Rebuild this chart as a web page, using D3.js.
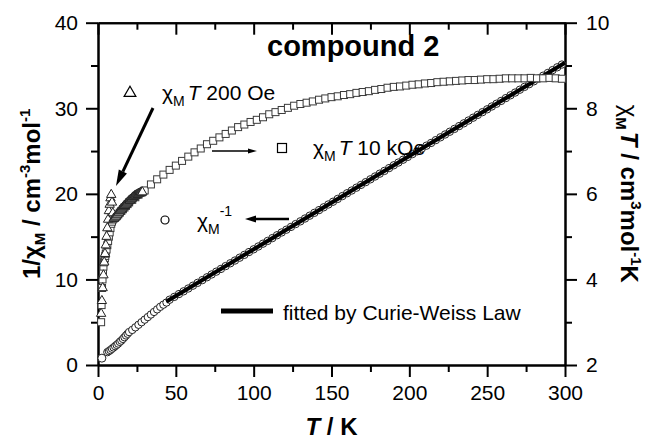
<!DOCTYPE html>
<html>
<head>
<meta charset="utf-8">
<script src="https://cdn.jsdelivr.net/npm/d3@7"></script>
<style>
  body { margin: 0; background: #fff; }
  svg { display: block; }
  text { font-family: "Liberation Sans", Arial, sans-serif; fill: #000; }
</style>
</head>
<body>
<div id="chart"></div>
<script>
// chi_M T at 10 kOe (right axis, cm3 mol-1 K)
const sqT = [2, 2.3, 2.6, 2.9, 3.2, 3.5, 3.8, 4.1, 4.4, 4.7, 5, 5.5, 6, 6.5, 7, 7.5, 8, 8.5, 9, 9.5, 10,
  11, 12, 13, 14, 15, 16, 17, 18, 19, 20, 22, 24, 26, 28,
  30, 34, 38, 42, 46, 50, 54, 58, 62, 66, 70, 74, 78, 82, 86, 90, 94, 98, 102, 106, 110, 114, 118,
  122, 126, 130, 134, 138, 142, 146, 150, 154, 158, 162, 166, 170, 174, 178, 182, 186, 190, 194,
  198, 202, 206, 210, 214, 218, 222, 226, 230, 234, 238, 242, 246, 250, 254, 258, 262, 266, 270,
  274, 278, 282, 286, 290, 294, 298];
const sqV = [3.0, 3.4, 3.8, 4.0, 4.2, 4.3, 4.4, 4.45, 4.5, 4.55, 4.6, 4.7, 4.8, 4.9, 5.0, 5.1, 5.2, 5.3, 5.35, 5.4, 5.42,
  5.45, 5.48, 5.52, 5.56, 5.6, 5.64, 5.68, 5.72, 5.76, 5.8, 5.86, 5.92, 5.98, 6.03,
  6.08, 6.22, 6.34, 6.45, 6.56, 6.66, 6.77, 6.87, 6.97, 7.06, 7.16, 7.24, 7.32, 7.40, 7.48, 7.56, 7.62, 7.68, 7.73, 7.79, 7.86, 7.91, 7.96,
  8.01, 8.06, 8.10, 8.13, 8.16, 8.20, 8.23, 8.26, 8.28, 8.31, 8.33, 8.36, 8.38, 8.40, 8.43, 8.45, 8.48, 8.50, 8.51,
  8.53, 8.55, 8.56, 8.58, 8.59, 8.61, 8.62, 8.63, 8.64, 8.65, 8.66, 8.66, 8.67, 8.68, 8.68, 8.69, 8.70, 8.70, 8.70,
  8.70, 8.71, 8.70, 8.70, 8.71, 8.70, 8.69];

// chi_M T at 200 Oe (right axis)
const triT = [2, 2.5, 3, 3.5, 4, 4.5, 5, 5.5, 6, 6.5, 7, 7.5, 8, 8.5, 9, 9.5, 10,
  10.5, 11, 11.5, 12, 12.5, 13, 13.5, 14, 14.5, 15, 15.5, 16, 16.5, 17, 17.5, 18, 18.5, 19, 19.5,
  20, 20.5, 21, 21.5, 22, 22.5, 23, 23.5, 24, 24.5, 25, 25.5, 26, 26.5, 27, 27.5, 28, 28.5];
const triV = [3.2, 3.5, 3.8, 4.1, 4.4, 4.6, 4.8, 5.0, 5.2, 5.4, 5.6, 5.75, 5.9, 5.98, 5.8, 5.55, 5.42,
  5.43, 5.45, 5.47, 5.5, 5.52, 5.55, 5.57, 5.6, 5.62, 5.64, 5.66, 5.68, 5.70, 5.72, 5.74, 5.76, 5.78, 5.8, 5.82,
  5.84, 5.85, 5.87, 5.88, 5.9, 5.92, 5.93, 5.95, 5.96, 5.97, 5.98, 5.99, 6.0, 6.01, 6.02, 6.03, 6.03, 6.04];

// 1/chi_M (left axis, cm-3 mol)
const cirT = [2.5, 6, 7, 8, 9, 10, 11, 12, 13, 14, 15, 16, 17, 18, 19, 20, 22, 24, 26, 28, 30, 32, 34, 36, 38, 40, 42, 44,
  46, 49, 52, 55, 58, 61, 64, 67, 70, 73, 76, 79, 82, 85, 88, 91, 94, 97, 100, 103, 106, 109, 112, 115,
  118, 121, 124, 127, 130, 133, 136, 139, 142, 145, 148, 151, 154, 157, 160, 163, 166, 169, 172, 175,
  178, 181, 184, 187, 190, 193, 196, 199, 202, 205, 208, 211, 214, 217, 220, 223, 226, 229, 232, 235,
  238, 241, 244, 247, 250, 253, 256, 259, 262, 265, 268, 271, 274, 277, 280, 283, 286, 289, 292, 295, 298];
const cirV = [0.8, 1.5, 1.62, 1.75, 1.9, 2.05, 2.2, 2.35, 2.5, 2.7, 2.85, 3.05, 3.25, 3.45, 3.65, 3.85, 4.1, 4.4, 4.7, 5.0, 5.3, 5.6, 5.9, 6.2, 6.5, 6.8, 7.05, 7.3,
  7.63, 7.96, 8.29, 8.61, 8.94, 9.27, 9.60, 9.92, 10.25, 10.58, 10.91, 11.23, 11.56, 11.89, 12.21, 12.54, 12.87, 13.20, 13.52, 13.85, 14.18, 14.50, 14.83, 15.16,
  15.49, 15.81, 16.14, 16.47, 16.79, 17.12, 17.45, 17.78, 18.10, 18.43, 18.76, 19.08, 19.41, 19.74, 20.07, 20.39, 20.72, 21.05, 21.37, 21.70,
  22.03, 22.36, 22.68, 23.01, 23.34, 23.66, 23.99, 24.32, 24.65, 24.97, 25.30, 25.63, 25.95, 26.28, 26.61, 26.94, 27.26, 27.59, 27.92, 28.24,
  28.57, 28.90, 29.23, 29.55, 29.88, 30.21, 30.53, 30.86, 31.19, 31.52, 31.84, 32.17, 32.50, 32.82, 33.15, 33.48, 33.81, 34.13, 34.46, 34.79, 35.11];

// Curie-Weiss fit line (left axis)
const fitT = [44, 300];
const fitV = [7.42, 35.33];

const xMajor = [0, 50, 100, 150, 200, 250, 300];
const xMinor = [25, 75, 125, 175, 225, 275];
const yLMajor = [0, 10, 20, 30, 40];
const yLMinor = [5, 15, 25, 35];
const yRMajor = [2, 4, 6, 8, 10];
const yRMinor = [3, 5, 7, 9];

const width = 648, height = 439;
const plot = { left: 98, right: 565, top: 22.7, bottom: 365 };

const svg = d3.select("#chart").append("svg")
  .attr("width", width)
  .attr("height", height);

const x = d3.scaleLinear().domain([0, 300]).range([plot.left, plot.right]);
const yL = d3.scaleLinear().domain([0, 40]).range([plot.bottom, plot.top]);
const yR = d3.scaleLinear().domain([2, 10]).range([plot.bottom, plot.top]);

function styleAxis(g) {
  g.select(".domain").attr("stroke", "#000").attr("stroke-width", 2);
  g.selectAll(".tick line").attr("stroke", "#000").attr("stroke-width", 2);
  g.selectAll(".tick text").attr("font-size", 21).attr("font-family", "Liberation Sans, Arial, sans-serif");
}

// axes
svg.append("g").attr("transform", `translate(0,${plot.bottom})`)
  .call(d3.axisBottom(x).tickValues(xMajor).tickSize(12).tickSizeOuter(0).tickPadding(8))
  .call(styleAxis);
svg.append("g").attr("transform", `translate(0,${plot.bottom})`)
  .call(d3.axisBottom(x).tickValues(xMinor).tickSize(7).tickSizeOuter(0).tickFormat(""))
  .call(styleAxis);
svg.append("g").attr("transform", `translate(0,${plot.top})`)
  .call(d3.axisTop(x).tickValues(xMajor).tickSize(-12).tickSizeOuter(0).tickFormat(""))
  .call(styleAxis);
svg.append("g").attr("transform", `translate(0,${plot.top})`)
  .call(d3.axisTop(x).tickValues(xMinor).tickSize(-7).tickSizeOuter(0).tickFormat(""))
  .call(styleAxis);

svg.append("g").attr("transform", `translate(${plot.left},0)`)
  .call(d3.axisLeft(yL).tickValues(yLMajor).tickSize(12).tickSizeOuter(0).tickPadding(8))
  .call(styleAxis);
svg.append("g").attr("transform", `translate(${plot.left},0)`)
  .call(d3.axisLeft(yL).tickValues(yLMinor).tickSize(7).tickSizeOuter(0).tickFormat(""))
  .call(styleAxis);

svg.append("g").attr("transform", `translate(${plot.right},0)`)
  .call(d3.axisRight(yR).tickValues(yRMajor).tickSize(12).tickSizeOuter(0).tickPadding(9))
  .call(styleAxis);
svg.append("g").attr("transform", `translate(${plot.right},0)`)
  .call(d3.axisRight(yR).tickValues(yRMinor).tickSize(7).tickSizeOuter(0).tickFormat(""))
  .call(styleAxis);

// 1/chi circles
svg.append("g").selectAll("circle")
  .data(cirT.map((t, i) => [t, cirV[i]]))
  .enter().append("circle")
  .attr("cx", d => x(d[0]))
  .attr("cy", d => yL(d[1]))
  .attr("r", (d, i) => (i === 0 ? 4 : 3.7))
  .attr("fill", "#fff")
  .attr("stroke", "#222")
  .attr("stroke-width", 1);

// fit line
svg.append("path")
  .datum(fitT.map((t, i) => [t, fitV[i]]))
  .attr("d", d3.line().x(d => x(d[0])).y(d => yL(d[1])))
  .attr("stroke", "#000")
  .attr("stroke-width", 4)
  .attr("fill", "none");

// chiT 10 kOe squares
const sq = 7;
svg.append("g").selectAll("rect")
  .data(sqT.map((t, i) => [t, sqV[i]]))
  .enter().append("rect")
  .attr("x", d => x(d[0]) - sq / 2)
  .attr("y", d => yR(d[1]) - sq / 2)
  .attr("width", sq)
  .attr("height", sq)
  .attr("fill", "#fff")
  .attr("stroke", "#3a3a3a")
  .attr("stroke-width", 1);

// chiT 200 Oe triangles
const tri = d3.symbol().type(d3.symbolTriangle).size(38);
svg.append("g").selectAll("path")
  .data(triT.map((t, i) => [t, triV[i]]))
  .enter().append("path")
  .attr("d", tri)
  .attr("transform", d => `translate(${x(d[0])},${yR(d[1])})`)
  .attr("fill", "#fff")
  .attr("stroke", "#222")
  .attr("stroke-width", 1);

// arrows
function arrow(x1, y1, x2, y2, w, headLen, headW) {
  const a = Math.atan2(y2 - y1, x2 - x1);
  const bx = x2 - headLen * Math.cos(a), by = y2 - headLen * Math.sin(a);
  const nx = -Math.sin(a) * headW / 2, ny = Math.cos(a) * headW / 2;
  svg.append("line")
    .attr("x1", x1).attr("y1", y1).attr("x2", bx).attr("y2", by)
    .attr("stroke", "#000").attr("stroke-width", w);
  svg.append("path")
    .attr("d", `M${x2},${y2}L${bx + nx},${by + ny}L${bx - nx},${by - ny}Z`)
    .attr("fill", "#000");
}
arrow(153, 108, 116, 186, 3, 16, 9);
arrow(212, 151, 257, 151, 1.5, 9, 5);
arrow(289, 219, 245, 219, 2.5, 11, 7);

// legend symbols
svg.append("path")
  .attr("d", d3.symbol().type(d3.symbolTriangle).size(60))
  .attr("transform", "translate(130,93)")
  .attr("fill", "#fff").attr("stroke", "#000").attr("stroke-width", 1.2);
svg.append("rect")
  .attr("x", 277.5).attr("y", 143.5).attr("width", 9).attr("height", 9)
  .attr("fill", "#fff").attr("stroke", "#000").attr("stroke-width", 1.2);
svg.append("circle")
  .attr("cx", 165).attr("cy", 220).attr("r", 4)
  .attr("fill", "#fff").attr("stroke", "#000").attr("stroke-width", 1.2);
svg.append("line")
  .attr("x1", 221).attr("x2", 273).attr("y1", 311).attr("y2", 311)
  .attr("stroke", "#000").attr("stroke-width", 5);

// annotation texts
const t200 = svg.append("text").attr("x", 162).attr("y", 100).attr("font-size", 21);
t200.append("tspan").text("χ");
t200.append("tspan").attr("font-size", 14).attr("dy", 6).text("M");
t200.append("tspan").attr("font-style", "italic").attr("dy", -6).attr("dx", 3).text("T");
t200.append("tspan").text(" 200 Oe");

const t10k = svg.append("text").attr("x", 313).attr("y", 155).attr("font-size", 21);
t10k.append("tspan").text("χ");
t10k.append("tspan").attr("font-size", 14).attr("dy", 6).text("M");
t10k.append("tspan").attr("font-style", "italic").attr("dy", -6).attr("dx", 3).text("T");
t10k.append("tspan").text(" 10 kOe");

const tInv = svg.append("text").attr("x", 197).attr("y", 228).attr("font-size", 21);
tInv.append("tspan").text("χ");
tInv.append("tspan").attr("font-size", 14).attr("dy", 6).text("M");
tInv.append("tspan").attr("font-size", 14).attr("dy", -18).text("-1");

svg.append("text").attr("x", 283).attr("y", 320).attr("font-size", 21)
  .text("fitted by Curie-Weiss Law");

svg.append("text").attr("x", 267).attr("y", 56)
  .attr("font-size", 29).attr("font-weight", "bold")
  .text("compound 2");

// axis titles
const xt = svg.append("text").attr("x", (plot.left + plot.right) / 2).attr("y", 435)
  .attr("text-anchor", "middle").attr("font-size", 24).attr("font-weight", "bold");
xt.append("tspan").attr("font-style", "italic").text("T");
xt.append("tspan").text(" / K");

const ylt = svg.append("text")
  .attr("transform", `translate(40,${(plot.top + plot.bottom) / 2}) rotate(-90)`)
  .attr("text-anchor", "middle").attr("font-size", 24).attr("font-weight", "bold");
ylt.append("tspan").text("1/χ");
ylt.append("tspan").attr("font-size", 15).attr("dy", 5).text("M");
ylt.append("tspan").attr("dy", -5).text(" / cm");
ylt.append("tspan").attr("font-size", 15).attr("dy", -10).text("-3");
ylt.append("tspan").attr("dy", 10).text("mol");
ylt.append("tspan").attr("font-size", 15).attr("dy", -10).text("-1");

const yrt = svg.append("text")
  .attr("transform", `translate(621,${(plot.top + plot.bottom) / 2}) rotate(90)`)
  .attr("text-anchor", "middle").attr("font-size", 24).attr("font-weight", "bold");
yrt.append("tspan").attr("font-weight", "normal").text("χ");
yrt.append("tspan").attr("font-size", 15).attr("dy", 5).text("M");
yrt.append("tspan").attr("font-style", "italic").attr("dy", -5).attr("dx", 2).text("T");
yrt.append("tspan").text(" / cm");
yrt.append("tspan").attr("font-size", 15).attr("dy", -10).text("3");
yrt.append("tspan").attr("dy", 10).text("mol");
yrt.append("tspan").attr("font-size", 15).attr("dy", -10).text("-1");
yrt.append("tspan").attr("dy", 10).text("K");
</script>
</body>
</html>
